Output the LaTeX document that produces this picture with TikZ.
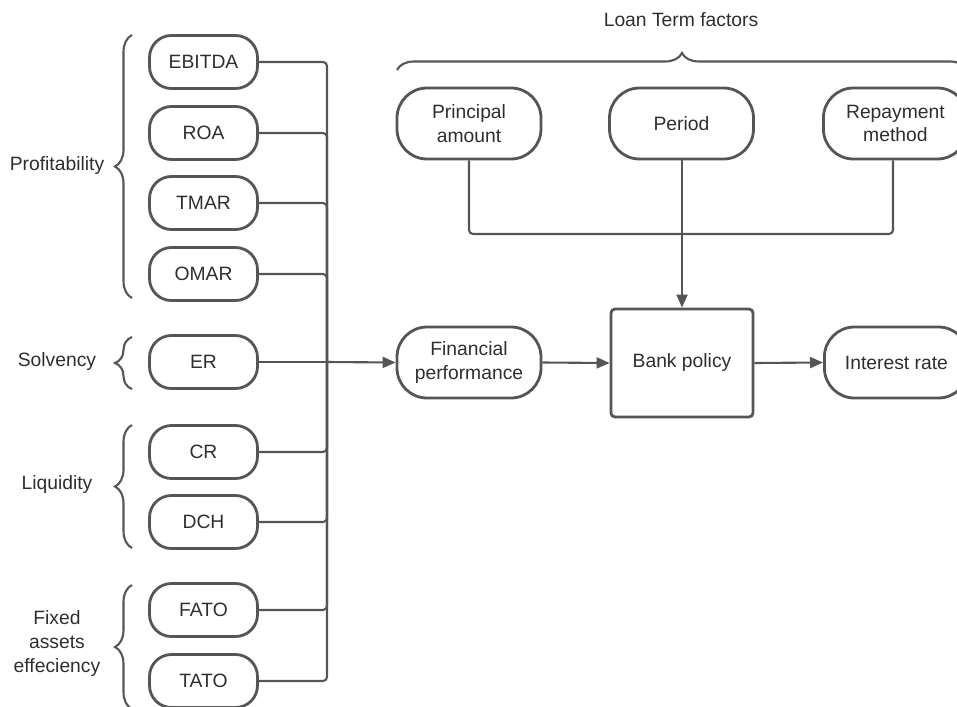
\documentclass[tikz,border=0pt]{standalone}
\usepackage{fontspec}
\setmainfont{Liberation Sans}
\usetikzlibrary{arrows.meta,decorations.pathreplacing}
\definecolor{ln}{HTML}{555555}
\definecolor{tx}{HTML}{2E2E2E}
\begin{document}
\begin{tikzpicture}[x=1pt,y=-1pt,
  every node/.style={text=tx,font=\fontsize{19.3}{23.5}\selectfont},
  small/.style={draw=ln,line width=2.8pt,rounded corners=22pt,minimum width=108pt,minimum height=53pt,inner sep=0pt},
  big/.style={draw=ln,line width=2.8pt,rounded corners=30pt,minimum width=144pt,minimum height=71pt,inner sep=0pt,align=center},
  boxr/.style={draw=ln,line width=2.8pt,rounded corners=4pt,minimum width=142pt,minimum height=108pt,inner sep=0pt},
  conn/.style={draw=ln,line width=2.1pt,rounded corners=4pt},
  arr/.style={draw=ln,line width=2.1pt,-{Triangle[length=13pt,width=11pt]}},
  brc/.style={draw=ln,line width=2.1pt,decorate,decoration={brace,amplitude=17pt}},
  lbl/.style={align=center}]
\useasboundingbox (0,0) rectangle (957,706);
% left nodes
\node[small] (ebitda) at (203.5,62) {EBITDA};
\node[small] (roa) at (203.5,133) {ROA};
\node[small] (tmar) at (203.5,203) {TMAR};
\node[small] (omar) at (203.5,274) {OMAR};
\node[small] (er) at (203.5,362) {ER};
\node[small] (cr) at (203.5,452) {CR};
\node[small] (dch) at (203.5,522) {DCH};
\node[small] (fato) at (203.5,610) {FATO};
\node[small] (tato) at (203.5,681) {TATO};
% braces and labels
\draw[brc] (132,298) -- (132,35);
\draw[brc] (132,389) -- (132,337);
\draw[brc] (132,548) -- (132,425);
\draw[brc] (132,709) -- (132,585);
\node[lbl] (lprof) at (57,166) {Profitability};
\node[lbl] (lsolv) at (57,362) {Solvency};
\node[lbl] (lliq) at (57,485) {Liquidity};
\node[lbl,font=\fontsize{19.3}{24}\selectfont] (lfix) at (57,644) {Fixed\\assets\\effeciency};
% right nodes
\node[big] (fin) at (469,362.5) {Financial\\performance};
\node[boxr] (bank) at (682,363) {Bank policy};
\node[big,anchor=west] (int) at (823,362.5) {Interest rate};
\node[big] (prin) at (469,123.5) {Principal\\amount};
\node[big] (per) at (681.5,123.5) {Period};
\node[big,anchor=west] (rep) at (822,123.5) {Repayment\\method};
\draw[brc] (397,70) -- (967,70);
\node (ltf) at (681,20) {Loan Term factors};
% connectors
\coordinate (jn) at (327,362);
\coordinate (tj) at (682,234);
\foreach \n in {ebitda,roa,tmar,omar,cr,dch,fato,tato}{
  \draw[conn] (\n.east) -| (jn);
}
\draw[conn] (er.east) -- (jn);
\draw[arr] (jn) -- (fin.west);
\draw[arr] (fin.east) -- (bank.west);
\draw[arr] (bank.east) -- (int.west);
\draw[conn] (prin.south) |- (tj);
\draw[conn] (rep.south-|893,0) |- (tj);
\draw[arr] (per.south-|bank.north) -- (bank.north);
\end{tikzpicture}
\end{document}
